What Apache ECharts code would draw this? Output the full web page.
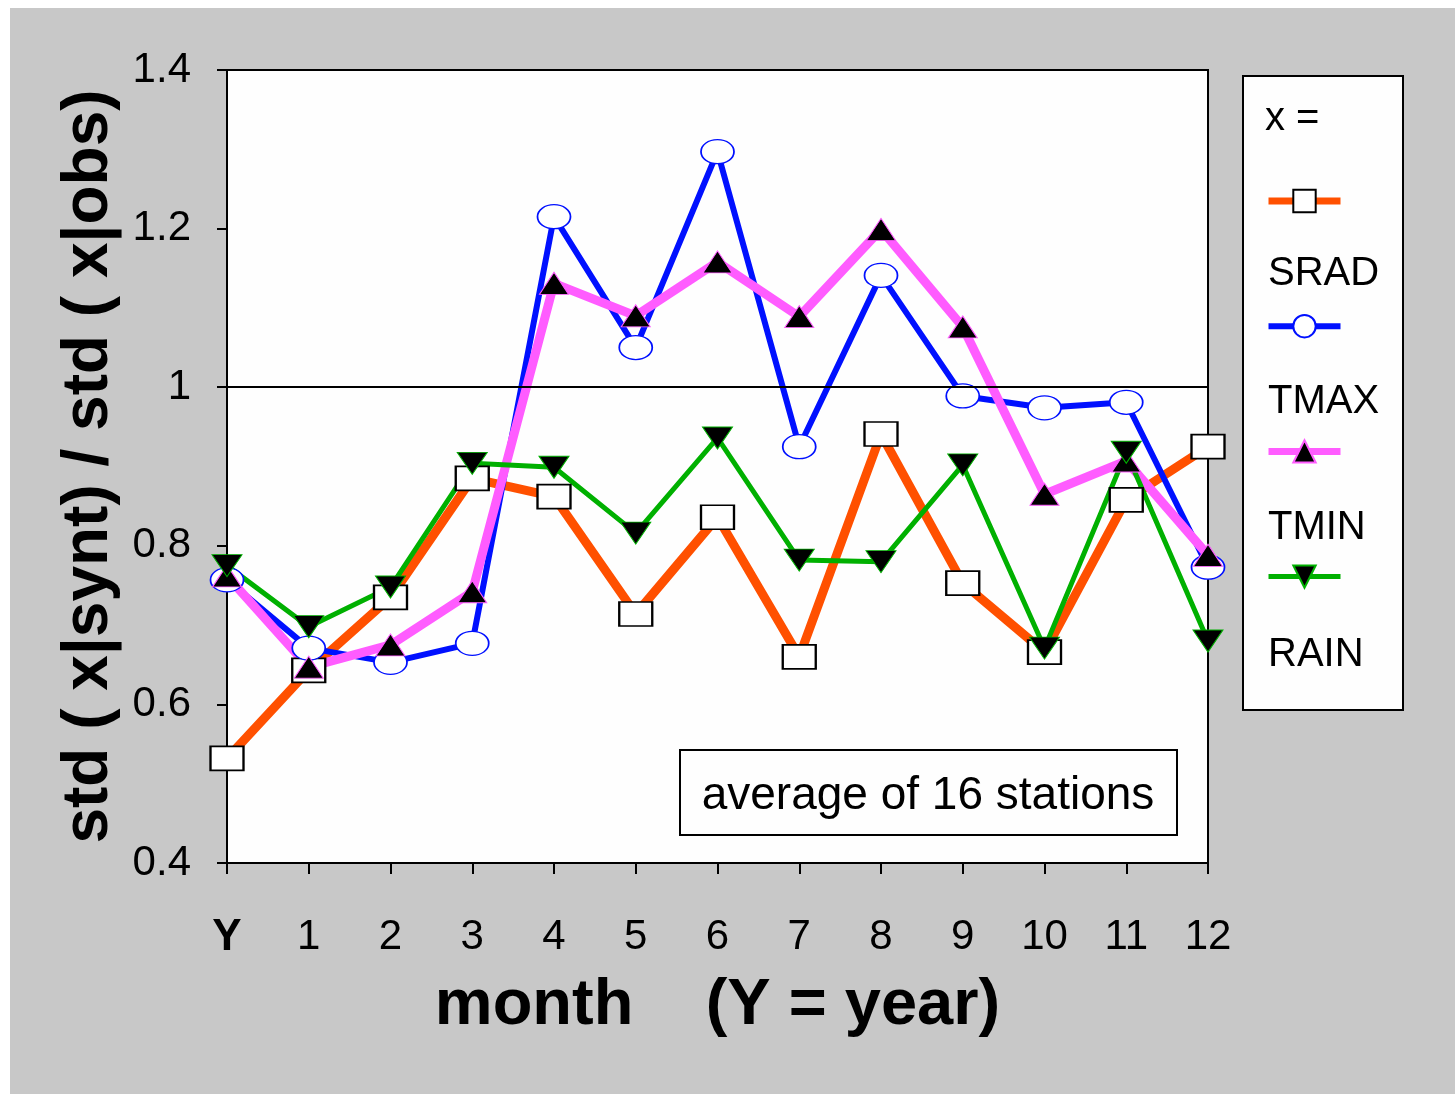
<!DOCTYPE html>
<html>
<head>
<meta charset="utf-8">
<script src="https://cdn.jsdelivr.net/npm/echarts@6/dist/echarts.min.js"></script>
<style>
  html, body { margin: 0; padding: 0; background: #ffffff; }
  #chart { position: absolute; left: 10px; top: 8px; width: 1445px; height: 1086px; background: #c8c8c8; }
</style>
</head>
<body>
<div id="chart"></div>
<script>
const categories = ['Y', '1', '2', '3', '4', '5', '6', '7', '8', '9', '10', '11', '12'];
const seriesNames = ['SRAD', 'TMAX', 'TMIN', 'RAIN'];
const srad = [0.532, 0.643, 0.735, 0.885, 0.862, 0.714, 0.836, 0.660, 0.941, 0.753, 0.666, 0.858, 0.925];
const tmax = [0.757, 0.671, 0.653, 0.677, 1.215, 1.050, 1.297, 0.925, 1.141, 0.989, 0.974, 0.981, 0.773];
const tmin = [0.762, 0.647, 0.675, 0.742, 1.131, 1.090, 1.158, 1.089, 1.199, 1.076, 0.865, 0.907, 0.788];
const rain = [0.775, 0.698, 0.748, 0.904, 0.899, 0.816, 0.936, 0.782, 0.780, 0.902, 0.671, 0.918, 0.680];
const yTicks = { min: 0.4, max: 1.4, interval: 0.2 };
const refLine = 1;
const yTitle = 'std ( x|synt) / std ( x|obs)';
const xTitle = 'month    (Y = year)';
const noteText = 'average of 16 stations';
const legendHeader = 'x =';

const FONT = "'Liberation Sans', Arial, sans-serif";
const ellipse = 'path://M0,50 C0,22 22,0 50,0 C78,0 100,22 100,50 C100,78 78,100 50,100 C22,100 0,78 0,50 Z';
const downTri = 'path://M0,0 L100,0 L50,80 Z';

const colors = { SRAD: '#ff5000', TMAX: '#0010ff', TMIN: '#ff5cff', RAIN: '#00b000' };
const widths = { SRAD: 9, TMAX: 6, TMIN: 9, RAIN: 5 };

const chart = echarts.init(document.getElementById('chart'), null, { renderer: 'canvas' });

const legendLabelY = [266, 394, 520, 647];

const option = {
  backgroundColor: 'transparent',
  animation: false,
  grid: {
    left: 217, top: 62, width: 981, height: 793,
    show: true, backgroundColor: '#fefefe', borderColor: '#000', borderWidth: 2
  },
  xAxis: {
    type: 'category',
    data: categories,
    boundaryGap: false,
    axisLine: { show: true, lineStyle: { color: '#000', width: 2 } },
    axisTick: { show: true, inside: false, length: 11, interval: 0, lineStyle: { color: '#000', width: 2 } },
    axisLabel: {
      interval: 0, margin: 53, color: '#000', fontSize: 42, fontFamily: FONT,
      formatter: v => v === 'Y' ? '{b|Y}' : v,
      rich: { b: { fontWeight: 'bold', fontSize: 44, fontFamily: FONT, color: '#000' } }
    },
    splitLine: { show: false },
    name: xTitle,
    nameLocation: 'middle',
    nameGap: 111,
    nameTextStyle: { fontSize: 65, fontWeight: 'bold', fontFamily: FONT, color: '#000' }
  },
  yAxis: {
    type: 'value',
    min: yTicks.min, max: yTicks.max, interval: yTicks.interval,
    axisLine: { show: true, lineStyle: { color: '#000', width: 2 } },
    axisTick: { show: true, inside: false, length: 10, lineStyle: { color: '#000', width: 2 } },
    axisLabel: { margin: 36, color: '#000', fontSize: 42, fontFamily: FONT },
    splitLine: { show: false },
    name: yTitle,
    nameLocation: 'middle',
    nameGap: 106,
    nameTextStyle: { fontSize: 64, fontWeight: 'bold', fontFamily: FONT, color: '#000' }
  },
  legend: {
    orient: 'vertical',
    left: 1250, top: 174,
    itemWidth: 72, itemHeight: 28, itemGap: 99,
    formatter: () => '',
    textStyle: { fontSize: 1 },
    selectedMode: false,
    data: seriesNames.map(n => ({ name: n, lineStyle: { width: Math.min(widths[n], 7), color: colors[n] } }))
  },
  graphic: [
    { type: 'rect', z: 1, shape: { x: 1233, y: 68, width: 160, height: 634 },
      style: { fill: '#fefefe', stroke: '#000', lineWidth: 2 } },
    { type: 'text', z: 10, x: 1255, y: 111,
      style: { text: legendHeader, font: '40px ' + FONT, fill: '#000', verticalAlign: 'middle' } },
    ...seriesNames.map((n, i) => ({
      type: 'text', z: 10, x: 1258, y: legendLabelY[i],
      style: { text: n, font: '40px ' + FONT, fill: '#000', verticalAlign: 'middle' }
    })),
    { type: 'rect', z: 10, shape: { x: 670, y: 742, width: 497, height: 85 },
      style: { fill: '#fefefe', stroke: '#000', lineWidth: 2 } },
    { type: 'text', z: 11, x: 918, y: 788,
      style: { text: noteText, font: '46px ' + FONT, fill: '#000', align: 'center', verticalAlign: 'middle' } }
  ],
  series: [
    {
      name: 'SRAD', type: 'line', data: srad,
      symbol: 'rect', symbolSize: [33, 24],
      lineStyle: { color: colors.SRAD, width: widths.SRAD },
      itemStyle: { color: '#ffffff', borderColor: '#000', borderWidth: 2 },
      markLine: {
        silent: true, symbol: 'none', label: { show: false },
        lineStyle: { color: '#000', width: 2, type: 'solid' },
        data: [{ yAxis: refLine }]
      }
    },
    {
      name: 'TMAX', type: 'line', data: tmax,
      symbol: ellipse, symbolSize: [33, 24],
      lineStyle: { color: colors.TMAX, width: widths.TMAX },
      itemStyle: { color: '#ffffff', borderColor: colors.TMAX, borderWidth: 1.5 }
    },
    {
      name: 'TMIN', type: 'line', data: tmin,
      symbol: 'triangle', symbolSize: [29, 22],
      lineStyle: { color: colors.TMIN, width: widths.TMIN },
      itemStyle: { color: '#000000', borderColor: colors.TMIN, borderWidth: 1 }
    },
    {
      name: 'RAIN', type: 'line', data: rain,
      symbol: downTri, symbolSize: [30, 22],
      lineStyle: { color: colors.RAIN, width: widths.RAIN },
      itemStyle: { color: '#000000', borderColor: colors.RAIN, borderWidth: 1 }
    }
  ]
};
chart.setOption(option);
</script>
</body>
</html>
